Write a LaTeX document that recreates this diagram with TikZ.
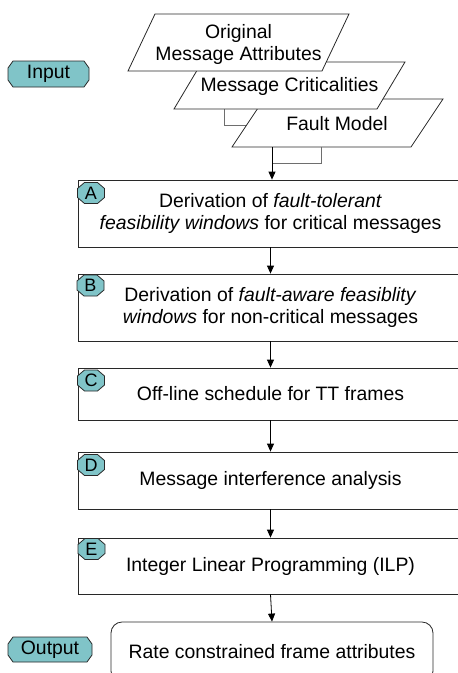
\documentclass[tikz,border=0pt]{standalone}
\usepackage{fontspec}
\setmainfont{Liberation Sans}
\usetikzlibrary{arrows.meta}
\definecolor{tealfill}{RGB}{128,196,200}
\definecolor{edge}{RGB}{40,40,40}
\definecolor{conn}{RGB}{110,110,110}
\tikzset{
  para/.style={draw=edge,fill=white,line width=0.8pt,line join=miter},
  ptxt/.style={align=center,inner sep=0pt},
  stepbox/.style={draw=edge,fill=white,line width=0.8pt,minimum width=385pt,align=center,inner sep=0pt},
  outbox/.style={draw=edge,fill=white,line width=0.8pt,rounded corners=11pt,minimum width=322pt,minimum height=60pt,inner sep=0pt},
  octshape/.style={draw=edge,fill=tealfill,line width=0.8pt},
  octtext/.style={inner sep=0pt},
  arr/.style={draw=black,line width=0.8pt,-{Triangle[length=8pt,width=7pt]}},
  elbow/.style={draw=conn,line width=0.9pt}
}
% name, cx, cy, width, height, chamfer x, chamfer y, font, text
\newcommand\octnode[9]{%
  \path[octshape] ({#2-#4/2+#6},{#3-#5/2}) -- ({#2+#4/2-#6},{#3-#5/2})
    -- ({#2+#4/2},{#3-#5/2+#7}) -- ({#2+#4/2},{#3+#5/2-#7})
    -- ({#2+#4/2-#6},{#3+#5/2}) -- ({#2-#4/2+#6},{#3+#5/2})
    -- ({#2-#4/2},{#3+#5/2-#7}) -- ({#2-#4/2},{#3-#5/2+#7}) -- cycle;
  \node[octtext,font=#8] (#1) at (#2,#3) {#9};}
\begin{document}
\begin{tikzpicture}[x=1pt,y=-1pt,font=\fontsize{19.4}{22}\selectfont]
\useasboundingbox (0,0) rectangle (458,673);
\clip (0,0) rectangle (458,673);
\fill[white] (0,0) rectangle (458,673);

% connectors among the input shapes
\coordinate (p2b) at (224,109);
\coordinate (p3l) at (247,125);
\draw[elbow] (p2b) |- (p3l);

% parallelograms (back to front)
\path[para] (264,99) -- (443,99) -- (411,147) -- (232,147) -- cycle;
\path[para] (202,62) -- (405,62) -- (377,109) -- (174,109) -- cycle;
\path[para] (155,14) -- (349,14) -- (322,71) -- (128,71) -- cycle;

\node[ptxt] (p1) at (238.5,44) {Original\\Message Attributes};
\node[ptxt] (p2) at (289.5,86) {Message Criticalities};
\node[ptxt] (p3) at (337,124) {Fault Model};

\coordinate (p3b) at (272,147);
\coordinate (p3r) at (321,147);
\draw[elbow] (p3b) -- (272,163) -| (p3r);

% input / output tags
\octnode{in}{48.5}{74}{81}{26}{5}{7}{\fontsize{19.4}{22}\selectfont}{Input}
\octnode{outtag}{50}{649.5}{84}{25}{5}{7}{\fontsize{19.4}{22}\selectfont}{Output}

% process boxes
\node[stepbox,minimum height=67pt] (A) at (270.5,213.5) {Derivation of \textit{fault-tolerant}\\\textit{feasibility windows} for critical messages};
\node[stepbox,minimum height=67pt] (B) at (270.5,307.5) {Derivation of \textit{fault-aware feasiblity}\\\textit{windows} for non-critical messages};
\node[stepbox,minimum height=52pt] (C) at (270.5,394) {Off-line schedule for TT frames};
\node[stepbox,minimum height=57pt] (D) at (270.5,480.5) {Message interference analysis};
\node[stepbox,minimum height=56pt] (E) at (270.5,566) {Integer Linear Programming (ILP)};
\node[outbox] (out) at (272,652) {Rate constrained frame attributes};

% letter tags
\octnode{la}{91}{193}{27}{21}{7}{6}{\fontsize{18}{18}\selectfont}{A}
\octnode{lb}{90.5}{285.5}{27}{21}{7}{6}{\fontsize{18}{18}\selectfont}{B}
\octnode{lc}{91}{380.5}{27}{21}{7}{6}{\fontsize{18}{18}\selectfont}{C}
\octnode{ld}{91}{465}{27}{21}{7}{6}{\fontsize{18}{18}\selectfont}{D}
\octnode{le}{91.5}{549}{27}{21}{7}{6}{\fontsize{18}{18}\selectfont}{E}

% arrows
\draw[arr] (p3b) -- (p3b |- A.north);
\draw[arr] (A.south) -- (B.north);
\draw[arr] (B.south) -- (C.north);
\draw[arr] (C.south) -- (D.north);
\draw[arr] (D.south) -- (E.north);
\draw[arr] (E.south) -- (out.north);
\end{tikzpicture}
\end{document}
